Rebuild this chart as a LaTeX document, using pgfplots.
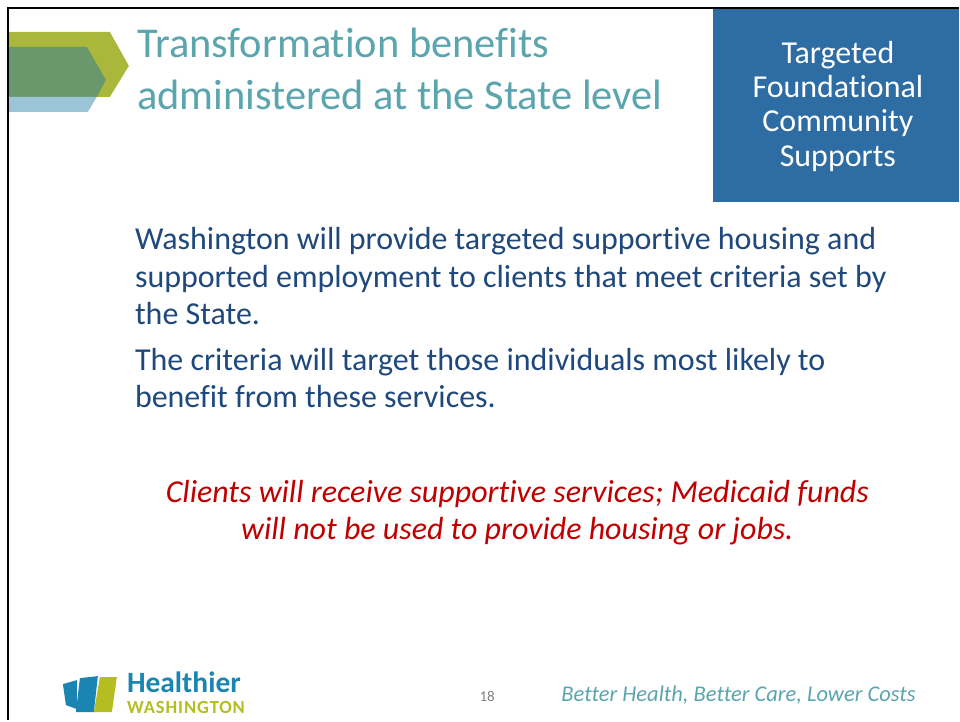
\documentclass[border=0pt]{standalone}
\usepackage{pgfplots}
\pgfplotsset{compat=1.18}
\usepackage{fontspec}
\setmainfont{Carlito}[Ligatures=NoCommon]
\newfontfamily\spacedbold{Carlito}[LetterSpace=5, UprightFont=*-Bold]
\definecolor{titleteal}{HTML}{5AA5AE}
\definecolor{bodyblue}{HTML}{1F497D}
\definecolor{redtxt}{HTML}{C00000}
\definecolor{boxblue}{HTML}{2E6CA4}
\definecolor{olive}{HTML}{A9B83A}
\definecolor{dkgreen}{HTML}{68986C}
\definecolor{ltblue}{HTML}{9BC4D6}
\definecolor{logoblue}{HTML}{1A85B0}
\definecolor{logogreen}{HTML}{B4BE23}
\newcommand{\fs}[1]{\fontsize{#1bp}{#1bp}\selectfont}
\begin{document}
\begin{tikzpicture}
\begin{axis}[
  width=960bp, height=721bp, scale only axis,
  xmin=0, xmax=960, ymin=0, ymax=721, y dir=reverse,
  hide axis, clip=false,
]
% background
\addplot[fill=white, draw=none] coordinates {(0,0) (960,0) (960,721) (0,721)} --cycle;
% top-left arrows
\addplot[fill=olive, draw=none] coordinates {(9,32) (110,32) (129,66) (110,97) (9,97)} --cycle;
\addplot[fill=dkgreen, draw=none] coordinates {(9,47) (87,47) (106,80) (97,97) (9,97)} --cycle;
\addplot[fill=ltblue, draw=none] coordinates {(9,97) (97,97) (88,112) (9,112)} --cycle;
% blue box
\addplot[fill=boxblue, draw=none] coordinates {(714,9) (960,9) (960,202) (714,202)} --cycle;
% frame lines
\addplot[black, line width=2.5bp] coordinates {(8,721) (8,8) (960,8)};
% bottom logo bars
\addplot[fill=logoblue, draw=none] coordinates {(63,685) (77,681) (77,710) (66,706)} --cycle;
\addplot[fill=logoblue, draw=none] coordinates {(80,679) (98,677) (94,713) (76,713)} --cycle;
\addplot[fill=logogreen, draw=none] coordinates {(100,678) (117,678) (112,713) (94,713)} --cycle;

% title
\node[anchor=base west, text=titleteal, inner sep=0] at (axis cs:137,58) {\fs{42.5}Transformation benefits};
\node[anchor=base west, text=titleteal, inner sep=0] at (axis cs:137,110) {\fs{42.5}administered at the State level};
% box text
\node[anchor=base, text=white, inner sep=0] at (axis cs:839,64) {\fs{32}Targeted};
\node[anchor=base, text=white, inner sep=0] at (axis cs:839,98) {\fs{32}Foundational};
\node[anchor=base, text=white, inner sep=0] at (axis cs:839,132) {\fs{32}Community};
\node[anchor=base, text=white, inner sep=0] at (axis cs:839,167) {\fs{32}Supports};
% body
\node[anchor=base west, text=bodyblue, inner sep=0] at (axis cs:135,250) {\fs{32}Washington will provide targeted supportive housing and};
\node[anchor=base west, text=bodyblue, inner sep=0] at (axis cs:135,288) {\fs{32}supported employment to clients that meet criteria set by};
\node[anchor=base west, text=bodyblue, inner sep=0] at (axis cs:135,325) {\fs{32}the State.};
\node[anchor=base west, text=bodyblue, inner sep=0] at (axis cs:135,371) {\fs{32}The criteria will target those individuals most likely to};
\node[anchor=base west, text=bodyblue, inner sep=0] at (axis cs:135,408) {\fs{32}benefit from these services.};
% red
\node[anchor=base, text=redtxt, inner sep=0] at (axis cs:518,503) {\fs{32}\itshape Clients will receive supportive services; Medicaid funds};
\node[anchor=base, text=redtxt, inner sep=0] at (axis cs:518,540) {\fs{32}\itshape will not be used to provide housing or jobs.};
% logo text
\node[anchor=base west, text=logoblue, inner sep=0] at (axis cs:127,693) {\fs{29.5}\bfseries Healthier};
\node[anchor=base west, text=logogreen, inner sep=0] at (axis cs:127,714) {\fs{18.5}\spacedbold WASHINGTON};
% footer
\node[anchor=base west, text=gray, inner sep=0] at (axis cs:480,702) {\fs{15}18};
\node[anchor=base west, text=titleteal, inner sep=0] at (axis cs:562,702) {\fs{22.5}\itshape Better Health, Better Care, Lower Costs};
\end{axis}
\end{tikzpicture}
\end{document}
